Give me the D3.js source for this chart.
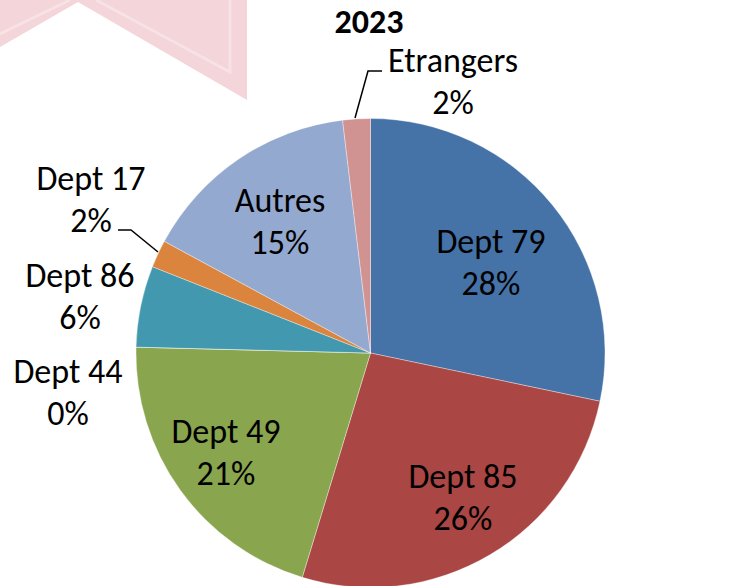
<!DOCTYPE html>
<html>
<head>
<meta charset="utf-8">
<script src="https://cdn.jsdelivr.net/npm/d3@7/dist/d3.min.js"></script>
<style>
  html, body { margin: 0; padding: 0; background: #fff; }
  svg { display: block; }
  text { font-family: Carlito, Calibri, Lato, sans-serif; fill: #000; }
</style>
</head>
<body>
<svg id="chart" width="749" height="586"></svg>
<script>
// Origin of visitors, 2023 (share of total)
const title = "2023";
const categories = ["Dept 79", "Dept 85", "Dept 49", "Dept 44", "Dept 86", "Dept 17", "Autres", "Etrangers"];
const values = [28.3, 26.4, 20.7, 0, 5.6, 1.9, 15.2, 1.9];
const colors = ["#4572A7", "#AA4643", "#89A54E", "#71588F", "#4198AF", "#DB843D", "#93A9CF", "#D19392"];

const width = 749, height = 586;
const cx = 370.5, cy = 353, radius = 234.5;
const labelSize = 34, titleSize = 34;

// Label anchors (block centre x, first-line baseline y) and optional leader polylines
const labelLayout = {
  "Dept 79":   { x: 491, y: 253 },
  "Dept 85":   { x: 463, y: 488 },
  "Dept 49":   { x: 226, y: 443 },
  "Dept 44":   { x: 68,  y: 383 },
  "Dept 86":   { x: 80,  y: 287 },
  "Dept 17":   { x: 91,  y: 190, leader: [[118, 230], [131, 230], [158, 252]] },
  "Autres":    { x: 280, y: 212 },
  "Etrangers": { x: 453, y: 72,  leader: [[382, 71], [368, 71], [355, 118]] }
};
const lineGap = 42;

const svg = d3.select("#chart");

// Faint decorative chevron in the top-left corner
svg.append("polygon")
  .attr("points", [[0, 0], [247, 0], [247, 100], [78, 2], [0, 47]].map(p => p.join(",")).join(" "))
  .attr("fill", "#f3d5da");
svg.append("polyline")
  .attr("points", [[0, 34], [70, 0]].map(p => p.join(",")).join(" "))
  .attr("fill", "none").attr("stroke", "#f7e2e5").attr("stroke-width", 3);
svg.append("polyline")
  .attr("points", [[96, 0], [230, 72], [230, 0]].map(p => p.join(",")).join(" "))
  .attr("fill", "none").attr("stroke", "#f7e2e5").attr("stroke-width", 3);

const total = d3.sum(values);
const data = categories.map((c, i) => ({ name: c, value: values[i], color: colors[i] }));

const pie = d3.pie().value(d => d.value).sort(null);
const arc = d3.arc().innerRadius(0).outerRadius(radius);

const g = svg.append("g").attr("transform", `translate(${cx},${cy})`);
g.selectAll("path.slice")
  .data(pie(data))
  .join("path")
  .attr("class", "slice")
  .attr("d", arc)
  .attr("fill", d => d.data.color)
  .attr("stroke", "rgba(255,255,255,0.6)")
  .attr("stroke-width", 0.6);

// Title
svg.append("text")
  .attr("x", 369).attr("y", 33)
  .attr("text-anchor", "middle")
  .attr("font-size", titleSize).attr("font-weight", "bold")
  .text(title);

// Leader lines
data.forEach(d => {
  const l = labelLayout[d.name];
  if (l.leader) {
    svg.append("polyline")
      .attr("points", l.leader.map(p => p.join(",")).join(" "))
      .attr("fill", "none").attr("stroke", "#000").attr("stroke-width", 1.5);
  }
});

// Category + percentage labels
data.forEach(d => {
  const l = labelLayout[d.name];
  const pct = Math.round(d.value / total * 100) + "%";
  const t = svg.append("text")
    .attr("text-anchor", "middle")
    .attr("font-size", labelSize);
  t.append("tspan").attr("x", l.x).attr("y", l.y).text(d.name);
  t.append("tspan").attr("x", l.x).attr("y", l.y + lineGap).text(pct);
});
</script>
</body>
</html>
